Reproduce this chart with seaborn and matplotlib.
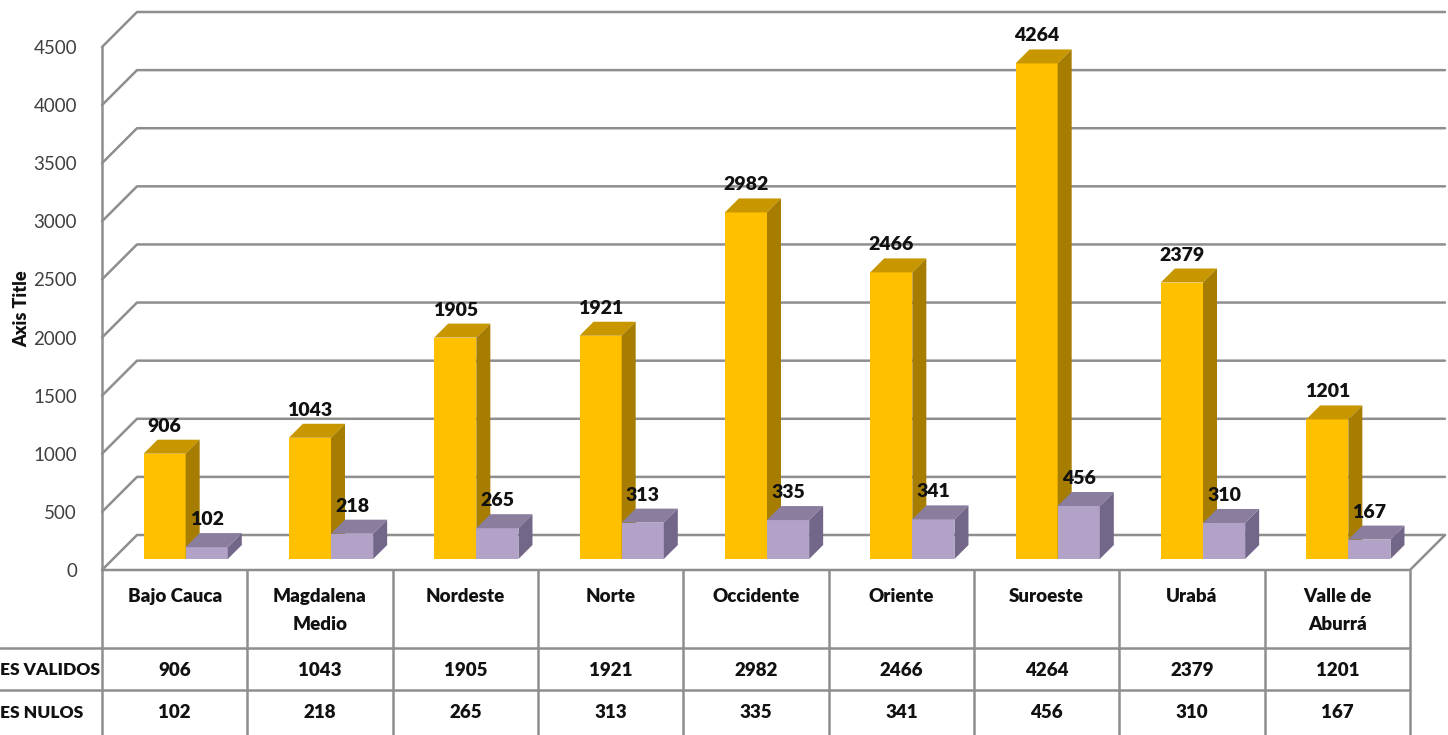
import matplotlib

matplotlib.use("Agg")

import matplotlib.pyplot as plt
import pandas as pd
import seaborn as sns
from matplotlib.lines import Line2D
from matplotlib.patches import Polygon


REGIONS = ["Bajo Cauca", "Magdalena\nMedio", "Nordeste", "Norte", "Occidente",
           "Oriente", "Suroeste", "Urabá", "Valle de\nAburrá"]
VALIDOS = [906, 1043, 1905, 1921, 2982, 2466, 4264, 2379, 1201]
NULOS = [102, 218, 265, 313, 335, 341, 456, 310, 167]
SERIES = ["ES VALIDOS", "ES NULOS"]
Y_TICKS = [0, 500, 1000, 1500, 2000, 2500, 3000, 3500, 4000, 4500]

W, H = 1448, 735
AX_LEFT, AX_RIGHT, AX_BOTTOM, AX_TOP = 102, 1410, 570, 47

FRONT = {"ES VALIDOS": "#FFC000", "ES NULOS": "#B3A2C7"}
TOP = {"ES VALIDOS": "#C89700", "ES NULOS": "#8A7D9E"}
SIDE = {"ES VALIDOS": "#A67D00", "ES NULOS": "#736789"}
GRID = "#8E8E8E"
FONT = "Lato"


def main():
    sns.set_theme(style="white")
    plt.rcParams["font.family"] = [FONT, "DejaVu Sans"]

    df = pd.DataFrame({
        "region": REGIONS * 2,
        "serie": [SERIES[0]] * len(REGIONS) + [SERIES[1]] * len(REGIONS),
        "votos": VALIDOS + NULOS,
    })

    fig = plt.figure(figsize=(W / 100, H / 100), dpi=100)
    ax = fig.add_axes([AX_LEFT / W, 1 - AX_BOTTOM / H,
                       (AX_RIGHT - AX_LEFT) / W, (AX_BOTTOM - AX_TOP) / H])
    sns.barplot(data=df, x="region", y="votos", hue="serie", hue_order=SERIES,
                palette=FRONT, width=0.58, saturation=1, legend=False,
                errorbar=None, ax=ax, zorder=3)
    ax.set_xlim(-0.5, len(REGIONS) - 0.5)
    ax.set_ylim(0, 4500)

    # pixel -> data units, used for the fake depth
    kx = len(REGIONS) / (AX_RIGHT - AX_LEFT)
    ky = 4500 / (AX_BOTTOM - AX_TOP)
    wall_dx, wall_dy = 35 * kx, 35 * ky
    mid_dx, mid_dy = 11 * kx, 11 * ky
    bar_dx, bar_dy = 14 * kx, 14 * ky

    # back wall gridlines + left wall diagonals
    x0, x1 = -0.5, len(REGIONS) - 0.5
    for v in Y_TICKS:
        ax.plot([x0, x0 + wall_dx, x1 + wall_dx], [v, v + wall_dy, v + wall_dy],
                color=GRID, lw=1.8, clip_on=False, zorder=1)
    ax.plot([x0, x0], [0, 4500], color=GRID, lw=1.8, clip_on=False, zorder=1)
    ax.plot([x0, x1, x1 + wall_dx], [0, 0, wall_dy], color=GRID, lw=1.8,
            clip_on=False, zorder=1)

    # 3d faces and value labels
    n = len(REGIONS)
    for k, bar in enumerate(ax.patches[:2 * n]):
        serie = SERIES[k // n]
        z = 3 + 2 * (k // n)
        bx = bar.get_x() + mid_dx
        bw = bar.get_width()
        h = bar.get_height()
        bar.set_x(bx)
        bar.set_y(mid_dy)
        bar.set_zorder(z)
        bar.set_edgecolor("none")
        top = h + mid_dy
        ax.add_patch(Polygon([(bx, top), (bx + bw, top), (bx + bw + bar_dx, top + bar_dy),
                              (bx + bar_dx, top + bar_dy)], closed=True,
                             facecolor=TOP[serie], edgecolor="none", zorder=z, clip_on=False))
        ax.add_patch(Polygon([(bx + bw, mid_dy), (bx + bw + bar_dx, mid_dy + bar_dy),
                              (bx + bw + bar_dx, top + bar_dy), (bx + bw, top)], closed=True,
                             facecolor=SIDE[serie], edgecolor="none", zorder=z, clip_on=False))
        ax.text(bx + bw / 2, top + bar_dy + 5 * ky, f"{h:.0f}", ha="center", va="bottom",
                fontsize=14, fontweight="heavy", color="#111111", zorder=10, clip_on=False)

    sns.despine(ax=ax, left=True, bottom=True)
    ax.set_yticks(Y_TICKS)
    ax.set_yticklabels([str(v) for v in Y_TICKS], fontsize=13.5, color="#404040")
    ax.tick_params(axis="y", length=0, pad=18)
    ax.set_xticks([])
    ax.set_xlabel("")
    ax.set_ylabel("")
    ax.grid(False)
    ax.patch.set_alpha(0)
    fig.text(22 / W, 1 - 309 / H, "Axis Title", rotation=90, ha="center", va="center",
             fontsize=13, fontweight="heavy", color="#111111")

    # data table underneath
    tab = fig.add_axes([0, 0, 1, 1], zorder=-1)
    tab.set_xlim(0, W)
    tab.set_ylim(H, 0)
    tab.axis("off")
    col_w = (AX_RIGHT - AX_LEFT) / n
    edges = [AX_LEFT + i * col_w for i in range(n + 1)]
    for e in edges:
        tab.add_line(Line2D([e, e], [AX_BOTTOM, H], color=GRID, lw=1.8))
    for yy in [648, 690]:
        tab.add_line(Line2D([0, AX_RIGHT], [yy, yy], color=GRID, lw=1.8))
    for i, name in enumerate(REGIONS):
        cx = (edges[i] + edges[i + 1]) / 2
        tab.text(cx, 588, name, ha="center", va="top", fontsize=13.5, fontweight="heavy",
                 color="#111111", linespacing=1.75)
        tab.text(cx, 670, str(VALIDOS[i]), ha="center", va="center", fontsize=13.5,
                 fontweight="heavy", color="#111111")
        tab.text(cx, 713, str(NULOS[i]), ha="center", va="center", fontsize=13.5,
                 fontweight="heavy", color="#111111")
    tab.text(0, 670, SERIES[0], ha="left", va="center", fontsize=12.5, fontweight="heavy",
             color="#111111")
    tab.text(0, 713, SERIES[1], ha="left", va="center", fontsize=12.5, fontweight="heavy",
             color="#111111")

    fig.savefig("out.png", dpi=100, facecolor="white")
    plt.close(fig)


if __name__ == "__main__":
    main()
